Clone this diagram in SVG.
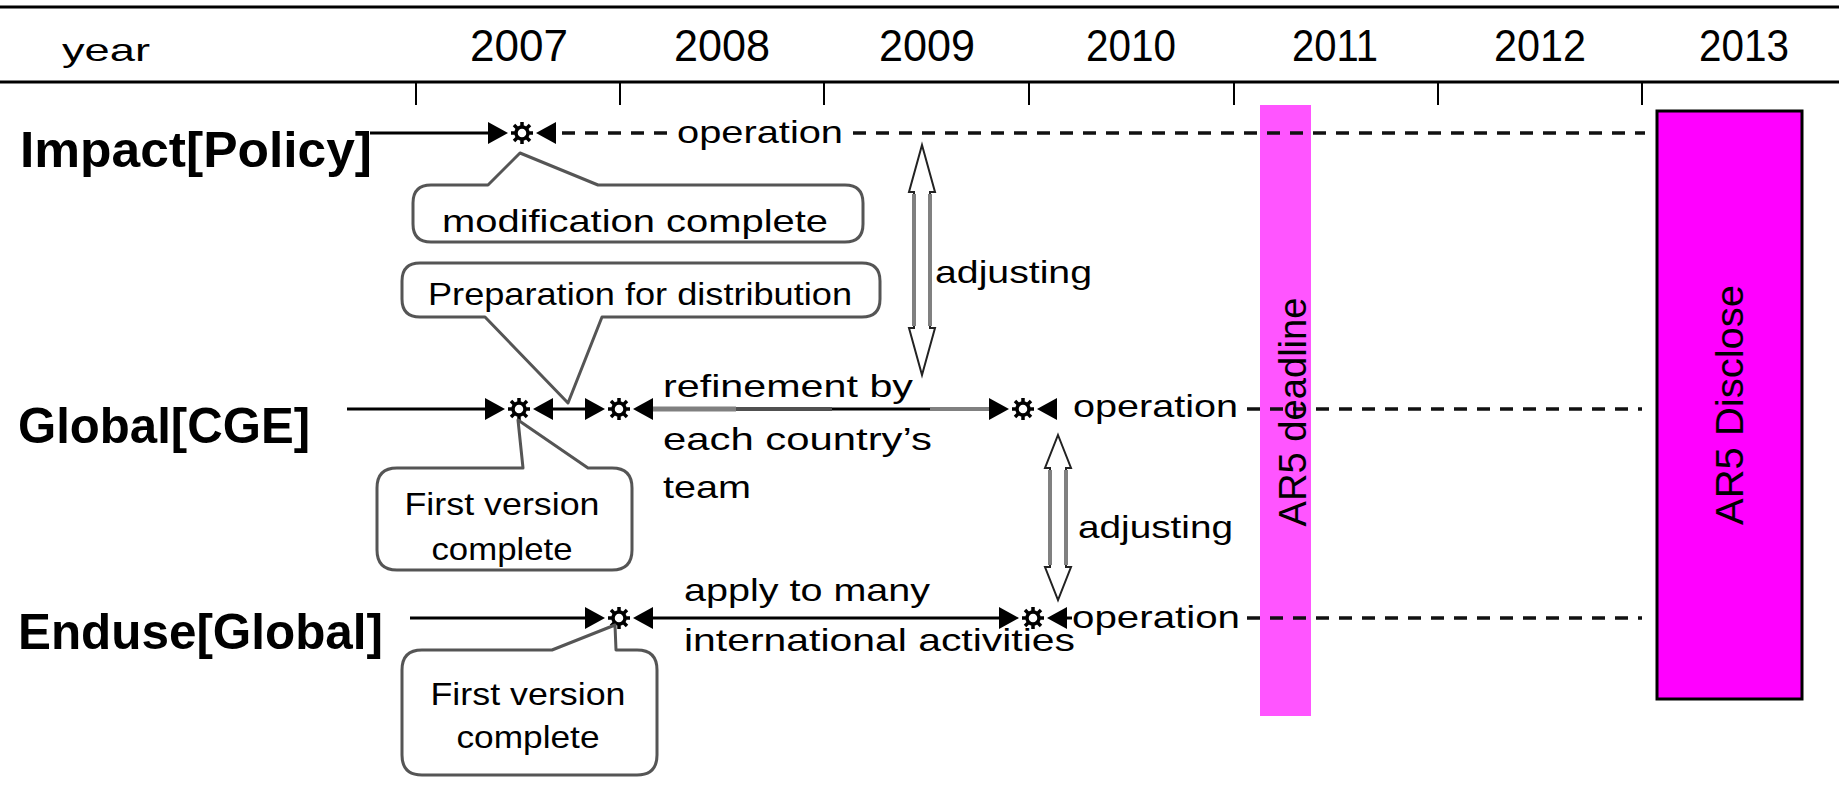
<svg xmlns="http://www.w3.org/2000/svg" xmlns:xlink="http://www.w3.org/1999/xlink" width="1839" height="798" viewBox="0 0 1839 798">
  <style>
    .t { font-family: "Liberation Sans", Arial, sans-serif; font-size: 32px; fill: #000; }
    .yr { font-family: "Liberation Sans", Arial, sans-serif; font-size: 44px; fill: #000; text-anchor: middle; }
    .row { font-family: "Liberation Sans", Arial, sans-serif; font-size: 50px; font-weight: bold; fill: #000; }
    .ar5 { font-family: "Liberation Sans", Arial, sans-serif; font-size: 38px; fill: #000; text-anchor: middle; }
    .c { text-anchor: middle; }
    .solid { stroke: #000; stroke-width: 3; fill: none; }
    .dash { stroke: #111; stroke-width: 3.5; fill: none; stroke-dasharray: 13 10; }
    .callout { fill: #fff; stroke: #555; stroke-width: 3; stroke-linejoin: round; }
    .dbl { fill: #fff; stroke: #222; stroke-width: 2; stroke-linejoin: miter; }
    .shaft { stroke: #808080; stroke-width: 4; }
  </style>
  <defs>
    <g id="gear">
      <path d="M0,-11V-6M0,6V11M-11,0H-6M6,0H11M-8,-8L-4.5,-4.5M8,8L4.5,4.5M-8,8L-4.5,4.5M8,-8L4.5,-4.5" stroke="#000" stroke-width="3.5"/>
      <circle r="6" fill="#fff" stroke="#000" stroke-width="3.5"/>
    </g>
    <g id="ms">
      <polygon points="-34,-11 -14,0 -34,11" fill="#000"/>
      <use xlink:href="#gear"/>
      <polygon points="34,-11 14,0 34,11" fill="#000"/>
    </g>
  </defs>

  <rect width="1839" height="798" fill="#fff"/>

  <!-- year header -->
  <g id="header">
    <line x1="0" y1="7" x2="1839" y2="7" stroke="#000" stroke-width="3"/>
    <line x1="0" y1="82" x2="1839" y2="82" stroke="#000" stroke-width="3"/>
    <g stroke="#000" stroke-width="2">
      <line x1="416" y1="82" x2="416" y2="105"/>
      <line x1="620" y1="82" x2="620" y2="105"/>
      <line x1="824" y1="82" x2="824" y2="105"/>
      <line x1="1029" y1="82" x2="1029" y2="105"/>
      <line x1="1234" y1="82" x2="1234" y2="105"/>
      <line x1="1438" y1="82" x2="1438" y2="105"/>
      <line x1="1642" y1="82" x2="1642" y2="105"/>
    </g>
    <text class="t" x="62" y="61" font-size="40" textLength="88" lengthAdjust="spacingAndGlyphs">year</text>
    <text class="yr" x="519" y="61" textLength="98" lengthAdjust="spacingAndGlyphs">2007</text>
    <text class="yr" x="722" y="61" textLength="96" lengthAdjust="spacingAndGlyphs">2008</text>
    <text class="yr" x="927" y="61" textLength="96" lengthAdjust="spacingAndGlyphs">2009</text>
    <text class="yr" x="1131" y="61" textLength="90" lengthAdjust="spacingAndGlyphs">2010</text>
    <text class="yr" x="1335" y="61" textLength="86" lengthAdjust="spacingAndGlyphs">2011</text>
    <text class="yr" x="1540" y="61" textLength="92" lengthAdjust="spacingAndGlyphs">2012</text>
    <text class="yr" x="1744" y="61" textLength="90" lengthAdjust="spacingAndGlyphs">2013</text>
  </g>

  <!-- AR5 deadline band -->
  <g id="ar5-deadline">
    <rect x="1260" y="105" width="51" height="611" fill="#ff55ff"/>
  </g>

  <!-- AR5 disclose box -->
  <g id="ar5-disclose">
    <rect x="1657" y="111" width="145" height="588" fill="#ff00ff" stroke="#000" stroke-width="3"/>
    <text class="ar5" transform="translate(1743,405) rotate(-90)" textLength="240" lengthAdjust="spacingAndGlyphs">AR5 Disclose</text>
  </g>

  <!-- row labels -->
  <g id="row-impact"><text class="row" x="20" y="167" textLength="352" lengthAdjust="spacingAndGlyphs">Impact[Policy]</text></g>
  <g id="row-global"><text class="row" x="18" y="443" textLength="292" lengthAdjust="spacingAndGlyphs">Global[CGE]</text></g>
  <g id="row-enduse"><text class="row" x="18" y="649" textLength="365" lengthAdjust="spacingAndGlyphs">Enduse[Global]</text></g>

  <!-- timeline connectors -->
  <g id="connectors">
    <!-- Impact[Policy] -->
    <line class="solid" x1="370" y1="133" x2="492" y2="133"/>
    <line class="dash" x1="562" y1="133" x2="668" y2="133"/>
    <line class="dash" x1="853" y1="133" x2="1645" y2="133"/>
    <!-- Global[CGE] -->
    <line class="solid" x1="347" y1="409" x2="490" y2="409"/>
    <line class="solid" x1="550" y1="409" x2="590" y2="409"/>
    <line x1="649" y1="409" x2="736" y2="409" stroke="#808080" stroke-width="5"/>
    <line x1="736" y1="409" x2="832" y2="409" stroke="#505050" stroke-width="4"/>
    <line x1="832" y1="409" x2="930" y2="409" stroke="#000" stroke-width="3"/>
    <line x1="930" y1="409" x2="995" y2="409" stroke="#808080" stroke-width="4"/>
    <line class="dash" x1="1247" y1="409" x2="1642" y2="409"/>
    <!-- Enduse[Global] -->
    <line class="solid" x1="410" y1="618" x2="592" y2="618"/>
    <line class="solid" x1="650" y1="618" x2="1005" y2="618"/>
    <line class="solid" x1="1060" y1="618" x2="1072" y2="618"/>
    <line class="dash" x1="1247" y1="618" x2="1642" y2="618"/>

    <!-- adjusting arrows -->
    <path class="dbl" d="M922,145 L935,192 L930,192 L930,328 L935,328 L922,375 L909,328 L914,328 L914,192 L909,192 Z"/>
    <line class="shaft" x1="914" y1="194" x2="914" y2="326"/>
    <line class="shaft" x1="930" y1="194" x2="930" y2="326"/>
    <path class="dbl" d="M1058,435 L1071,468 L1066,468 L1066,567 L1071,567 L1058,600 L1045,567 L1050,567 L1050,468 L1045,468 Z"/>
    <line class="shaft" x1="1050" y1="470" x2="1050" y2="565"/>
    <line class="shaft" x1="1066" y1="470" x2="1066" y2="565"/>
  </g>

  <text class="ar5" transform="translate(1306,412) rotate(-90)" textLength="229" lengthAdjust="spacingAndGlyphs">AR5 deadline</text>

  <!-- milestones -->
  <g id="ms-impact"><use xlink:href="#ms" x="522" y="133"/></g>
  <g id="ms-global-1"><use xlink:href="#ms" x="519" y="409"/></g>
  <g id="ms-global-2"><use xlink:href="#ms" x="619" y="409"/></g>
  <g id="ms-global-3"><use xlink:href="#ms" x="1023" y="409"/></g>
  <g id="ms-enduse-1"><use xlink:href="#ms" x="619" y="618"/></g>
  <g id="ms-enduse-2"><use xlink:href="#ms" x="1033" y="618"/></g>

  <!-- line labels -->
  <g id="labels">
    <text class="t" x="677" y="143" textLength="166" lengthAdjust="spacingAndGlyphs">operation</text>
    <text class="t" x="1073" y="417" textLength="165" lengthAdjust="spacingAndGlyphs">operation</text>
    <text class="t" x="1072" y="628" textLength="168" lengthAdjust="spacingAndGlyphs">operation</text>
    <text class="t" x="935" y="283" textLength="157" lengthAdjust="spacingAndGlyphs">adjusting</text>
    <text class="t" x="1078" y="538" textLength="155" lengthAdjust="spacingAndGlyphs">adjusting</text>
    <text class="t" x="663" y="397" textLength="250" lengthAdjust="spacingAndGlyphs">refinement by</text>
    <text class="t" x="663" y="450" textLength="269" lengthAdjust="spacingAndGlyphs">each country’s</text>
    <text class="t" x="663" y="498" textLength="88" lengthAdjust="spacingAndGlyphs">team</text>
    <text class="t" x="684" y="601" textLength="246" lengthAdjust="spacingAndGlyphs">apply to many</text>
    <text class="t" x="684" y="651" textLength="391" lengthAdjust="spacingAndGlyphs">international activities</text>
  </g>

  <!-- callouts -->
  <g id="callout-modification">
    <path class="callout" d="M431,185 L488,185 L520,153 L598,185 L845,185 Q863,185 863,203 L863,224 Q863,242 845,242 L431,242 Q413,242 413,224 L413,203 Q413,185 431,185 Z"/>
    <text class="t c" x="635" y="232" font-size="30" textLength="386" lengthAdjust="spacingAndGlyphs">modification complete</text>
  </g>
  <g id="callout-preparation">
    <path class="callout" d="M420,263 L862,263 Q880,263 880,281 L880,299 Q880,317 862,317 L602,317 L568,403 L485,317 L420,317 Q402,317 402,299 L402,281 Q402,263 420,263 Z"/>
    <text class="t c" x="640" y="305" font-size="30" textLength="424" lengthAdjust="spacingAndGlyphs">Preparation for distribution</text>
  </g>
  <g id="callout-first-cge">
    <path class="callout" d="M397,468 L523,468 L518,420 L588,468 L612,468 Q632,468 632,488 L632,550 Q632,570 612,570 L397,570 Q377,570 377,550 L377,488 Q377,468 397,468 Z"/>
    <text class="t c" x="502" y="515" textLength="195" lengthAdjust="spacingAndGlyphs">First version</text>
    <text class="t c" x="502" y="560" textLength="141" lengthAdjust="spacingAndGlyphs">complete</text>
  </g>
  <g id="callout-first-enduse">
    <path class="callout" d="M422,650 L552,650 L615,625 L616,650 L637,650 Q657,650 657,670 L657,755 Q657,775 637,775 L422,775 Q402,775 402,755 L402,670 Q402,650 422,650 Z"/>
    <text class="t c" x="528" y="705" textLength="195" lengthAdjust="spacingAndGlyphs">First version</text>
    <text class="t c" x="528" y="748" textLength="143" lengthAdjust="spacingAndGlyphs">complete</text>
  </g>
</svg>
